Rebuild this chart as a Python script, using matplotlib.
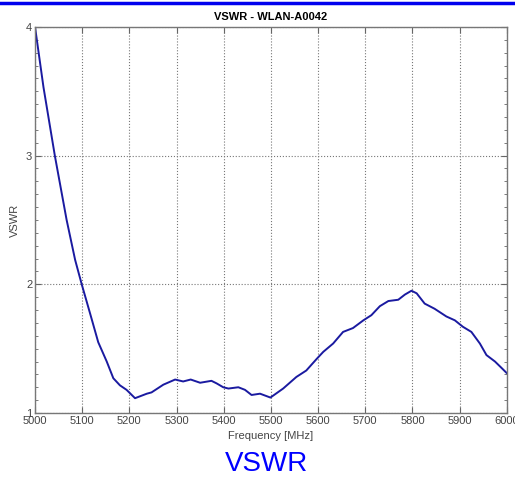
import numpy as np
import matplotlib
matplotlib.use("Agg")
import matplotlib.pyplot as plt
from matplotlib.lines import Line2D
from matplotlib.ticker import MultipleLocator

# VSWR curve (frequency in MHz)
freq = [5000, 5018, 5042, 5067, 5085, 5099, 5117, 5134, 5152, 5166, 5180, 5194,
        5212, 5237, 5247, 5272, 5297, 5314, 5330, 5350, 5374, 5385, 5399, 5410,
        5431, 5445, 5459, 5477, 5499, 5526, 5554, 5575, 5597, 5611, 5632, 5653,
        5674, 5696, 5713, 5731, 5749, 5770, 5784, 5798, 5809, 5826, 5847, 5872,
        5890, 5907, 5925, 5943, 5957, 5975, 5989, 6000]
vswr = [4.0, 3.53, 3.0, 2.50, 2.19, 2.0, 1.77, 1.55, 1.40, 1.27, 1.215, 1.18,
        1.115, 1.15, 1.16, 1.22, 1.26, 1.245, 1.26, 1.235, 1.25, 1.23, 1.20, 1.19,
        1.20, 1.18, 1.14, 1.15, 1.12, 1.19, 1.28, 1.33, 1.42, 1.475, 1.54, 1.63,
        1.66, 1.72, 1.76, 1.83, 1.87, 1.88, 1.92, 1.95, 1.93, 1.85, 1.81, 1.75,
        1.72, 1.67, 1.63, 1.54, 1.45, 1.40, 1.35, 1.31]
xticks = [5000, 5100, 5200, 5300, 5400, 5500, 5600, 5700, 5800, 5900, 6000]
yticks = [1, 2, 3, 4]

plt.rcParams['font.family'] = ['Liberation Sans', 'DejaVu Sans']

fig = plt.figure(figsize=(5.15, 4.79), dpi=100)
ax = fig.add_axes([0.068, 0.1378, 0.916, 0.806])

ax.plot(freq, vswr, color='#1a1aa0', lw=1.4)
ax.set_xlim(5000, 6000)
ax.set_ylim(1, 4)
ax.set_xticks(xticks)
ax.set_yticks(yticks)
ax.yaxis.set_minor_locator(MultipleLocator(0.1))
ax.grid(True, which='major', linestyle=':', color='#777777', lw=0.8)
ax.tick_params(which='both', direction='in', top=True, right=True,
               labelsize=8, labelcolor='#444444', color='#666666', pad=2)
ax.tick_params(which='major', length=4)
ax.tick_params(which='minor', length=2.5)
for s in ax.spines.values():
    s.set_color('#777777')
    s.set_linewidth(1.0)

ax.set_title('VSWR - WLAN-A0042', fontsize=8, fontweight='bold', pad=5)
ax.set_xlabel('Frequency [MHz]', fontsize=8, color='#444444', labelpad=4)
ax.set_ylabel('VSWR', fontsize=8, color='#444444', labelpad=4)

# blue rule along the top of the page and the caption below
fig.add_artist(Line2D([0, 1], [0.9937, 0.9937], transform=fig.transFigure,
                      color='#0000ee', lw=2.5))
fig.text(0.517, 0.016, 'VSWR', color='#0000ff', fontsize=20,
         ha='center', va='baseline')

fig.savefig('out.png', dpi=100)
